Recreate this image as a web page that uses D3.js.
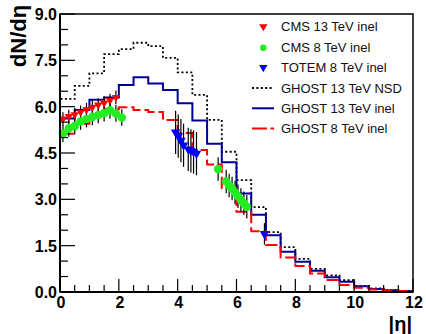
<!DOCTYPE html>
<html><head><meta charset="utf-8">
<script src="https://cdn.jsdelivr.net/npm/d3@7"></script>
<style>body{margin:0;background:#fff}svg{display:block}</style>
</head><body>
<svg id="c" width="426" height="334"></svg>
<script>
// histogram bin edges (|eta|, width 0.5)
const binEdges = [0,0.5,1,1.5,2,2.5,3,3.5,4,4.5,5,5.5,6,6.5,7,7.5,8,8.5,9,9.5,10,10.5,11,11.5,12];
const ghost13NSD  = [6.25,6.67,7.08,7.70,7.86,8.07,7.96,7.58,7.11,6.38,5.57,4.54,3.62,2.75,1.94,1.45,1.07,0.75,0.54,0.38,0.20,0.12,0.06,0.03];
const ghost13Inel = [5.62,5.89,6.22,6.30,6.70,6.95,6.75,6.54,6.11,5.55,4.80,4.20,3.19,2.50,1.84,1.30,0.98,0.69,0.48,0.33,0.19,0.10,0.06,0.03];
const ghost8Inel  = [5.12,5.45,5.72,5.92,5.98,5.89,5.83,5.57,5.15,4.60,4.13,3.36,2.60,1.97,1.52,1.12,0.84,0.60,0.39,0.23,0.14,0.08,0.05,0.03];

// data points
const cms13Eta = [0.1,0.3,0.5,0.7,0.9,1.1,1.3,1.5,1.7,1.9];
const cms13Val = [5.60,5.68,5.74,5.82,5.90,5.98,6.05,6.12,6.20,6.30];
const cms13Err = [0.22,0.22,0.22,0.22,0.22,0.22,0.22,0.22,0.22,0.22];

const cms8Eta = [0.1,0.3,0.5,0.7,0.9,1.1,1.3,1.5,1.7,1.9,2.1, 5.375, 5.65,5.75,5.85,5.95,6.05,6.15,6.25,6.35];
const cms8Val = [5.13,5.30,5.37,5.52,5.60,5.67,5.73,5.79,5.88,5.78,5.65, 3.98, 3.58,3.45,3.35,3.22,3.10,2.98,2.87,2.76];
const cms8Err = [0.27,0.27,0.27,0.27,0.27,0.27,0.27,0.27,0.27,0.27,0.27, 0.38, 0.38,0.38,0.38,0.38,0.38,0.38,0.38,0.38];

const totemEta = [3.93,4.02,4.11,4.20,4.36,4.45,4.54,4.64, 6.95];
const totemVal = [5.17,5.05,4.90,4.75,4.62,4.57,4.53,4.48, 1.88];
const totemErr = [0.70,0.70,0.70,0.70,0.70,0.70,0.70,0.70, 0.35];

const xTicks = [0,2,4,6,8,10,12];
const yTicks = [0,1.5,3,4.5,6,7.5,9];
const legendLabels = ["CMS 13 TeV inel","CMS 8 TeV inel","TOTEM 8 TeV inel","GHOST 13 TeV NSD","GHOST 13 TeV inel","GHOST 8 TeV inel"];

const svg = d3.select("#c");
const L=60,R=413,T=14,B=292;
const x = d3.scaleLinear().domain([0,12]).range([L,R]);
const y = d3.scaleLinear().domain([0,9]).range([B,T]);

// histogram path
function histPath(vals){
  const pts=[[binEdges[0],0]];
  vals.forEach((v,i)=>{pts.push([binEdges[i],v]);pts.push([binEdges[i+1],v]);});
  pts.push([binEdges[binEdges.length-1],0]);
  return d3.line().x(d=>x(d[0])).y(d=>y(d[1]))(pts);
}
const gh = svg.append("g");
gh.append("path").attr("d",histPath(ghost13NSD)).attr("fill","none").attr("stroke","#000").attr("stroke-width",1.8).attr("stroke-dasharray","2,2.4");
gh.append("path").attr("d",histPath(ghost13Inel)).attr("fill","none").attr("stroke","#000099").attr("stroke-width",2);
gh.append("path").attr("d",histPath(ghost8Inel)).attr("fill","none").attr("stroke","#ff0000").attr("stroke-width",2).attr("stroke-dasharray","12,4");

// error bars
function errBars(eta,val,err){
  svg.append("g").selectAll("line").data(eta).join("line")
    .attr("x1",(d)=>x(d)).attr("x2",(d)=>x(d))
    .attr("y1",(d,i)=>y(val[i]-err[i])).attr("y2",(d,i)=>y(val[i]+err[i]))
    .attr("stroke","#000").attr("stroke-width",1.2);
}
errBars(cms13Eta,cms13Val,cms13Err);
errBars(cms8Eta,cms8Val,cms8Err);
errBars(totemEta,totemVal,totemErr);

function downTri(r){return `M${-r},${-r*0.6}L${r},${-r*0.6}L0,${r*1.1}Z`;}
svg.append("g").selectAll("path").data(cms13Eta).join("path")
  .attr("d",downTri(4.2)).attr("transform",(d,i)=>`translate(${x(d)},${y(cms13Val[i])})`).attr("fill","#ff0000");
svg.append("g").selectAll("circle").data(cms8Eta).join("circle")
  .attr("cx",d=>x(d)).attr("cy",(d,i)=>y(cms8Val[i])).attr("r",4.3).attr("fill","#22ee22");
svg.append("g").selectAll("path").data(totemEta).join("path")
  .attr("d",downTri(4.8)).attr("transform",(d,i)=>`translate(${x(d)},${y(totemVal[i])})`).attr("fill","#0000ff");

// frame
svg.append("rect").attr("x",L).attr("y",T).attr("width",R-L).attr("height",B-T).attr("fill","none").attr("stroke","#000").attr("stroke-width",1.5);

// axes
const xMinor = d3.range(0,12.01,0.5);
const yMinor = d3.range(0,9.01,0.5);
const ax = svg.append("g");
ax.selectAll(".xm").data(xMinor).join("line").attr("x1",d=>x(d)).attr("x2",d=>x(d)).attr("y1",B).attr("y2",d=>B-(xTicks.includes(d)?13:7)).attr("stroke","#000").attr("stroke-width",1.2);
ax.selectAll(".ym").data(yMinor).join("line").attr("y1",d=>y(d)).attr("y2",d=>y(d)).attr("x1",L).attr("x2",d=>L+(yTicks.some(t=>Math.abs(t-d)<1e-6)?15:8)).attr("stroke","#000").attr("stroke-width",1.2);
ax.append("line").attr("x1",L).attr("x2",R).attr("y1",B).attr("y2",B).attr("stroke","#000").attr("stroke-width",2);
ax.append("line").attr("x1",L).attr("x2",L).attr("y1",B).attr("y2",T).attr("stroke","#000").attr("stroke-width",2);

const font = "'Liberation Sans', Arial, Helvetica, sans-serif";
ax.selectAll(".xl").data(xTicks).join("text").attr("x",d=>x(d)+1).attr("y",308).attr("text-anchor","middle")
  .attr("font-family",font).attr("font-weight","bold").attr("font-size",16).text(d=>d);
ax.selectAll(".yl").data(yTicks).join("text").attr("x",57).attr("y",d=>y(d)+6).attr("text-anchor","end")
  .attr("font-family",font).attr("font-weight","bold").attr("font-size",16).text(d=>d.toFixed(1));

svg.append("text").attr("transform","translate(26,36) rotate(-90)").attr("text-anchor","middle")
  .attr("font-family",font).attr("font-weight","bold").attr("font-size",22).text("dN/dη");
svg.append("text").attr("x",412).attr("y",331).attr("text-anchor","end")
  .attr("font-family",font).attr("font-weight","bold").attr("font-size",20).text("|η|");

// legend
const lg = svg.append("g");
const rowsY = [26.7,47.7,67.6,88,108.3,128.5];
legendLabels.forEach((t,i)=>{
  lg.append("text").attr("x",281).attr("y",rowsY[i]+4.6).attr("font-family",font).attr("font-size",13).attr("fill","#111").text(t);
});
lg.append("path").attr("d",downTri(4.2)).attr("transform",`translate(263.3,${rowsY[0]})`).attr("fill","#ff0000");
lg.append("circle").attr("cx",263.3).attr("cy",rowsY[1]).attr("r",3.3).attr("fill","#22ee22");
lg.append("path").attr("d",downTri(4.2)).attr("transform",`translate(263.3,${rowsY[2]})`).attr("fill","#0000ff");
lg.append("line").attr("x1",252).attr("x2",274).attr("y1",rowsY[3]).attr("y2",rowsY[3]).attr("stroke","#000").attr("stroke-width",1.8).attr("stroke-dasharray","2,2.4");
lg.append("line").attr("x1",252).attr("x2",274).attr("y1",rowsY[4]).attr("y2",rowsY[4]).attr("stroke","#000099").attr("stroke-width",2);
lg.append("line").attr("x1",252).attr("x2",274).attr("y1",rowsY[5]).attr("y2",rowsY[5]).attr("stroke","#ff0000").attr("stroke-width",2).attr("stroke-dasharray","15,3.5");
</script>
</body></html>
